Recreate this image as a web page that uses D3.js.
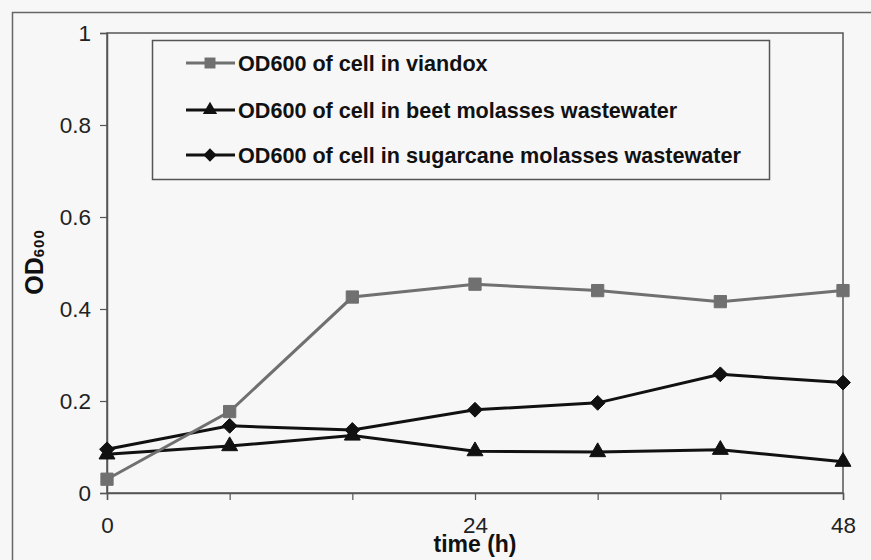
<!DOCTYPE html>
<html>
<head>
<meta charset="utf-8">
<script src="https://cdn.jsdelivr.net/npm/d3@7"></script>
<style>
  body { margin: 0; background: #f7f7f7; }
  svg { display: block; font-family: "Liberation Sans", Arial, sans-serif; }
</style>
</head>
<body>
<div id="chart"></div>
<script>
// hours sampled
const hours = [0, 8, 16, 24, 32, 40, 48];
const xLabels = [0, 24, 48];
const yTicks = [0, 0.2, 0.4, 0.6, 0.8, 1];

const viandox = [0.030, 0.177, 0.426, 0.454, 0.440, 0.416, 0.440];
const beet = [0.084, 0.102, 0.125, 0.091, 0.089, 0.094, 0.068];
const sugarcane = [0.095, 0.146, 0.137, 0.181, 0.196, 0.258, 0.240];

const seriesNames = [
    "OD600 of cell in viandox",
    "OD600 of cell in beet molasses wastewater",
    "OD600 of cell in sugarcane molasses wastewater"
];

// square turned 45deg, excel style diamond
const diamond = {
    draw(context, size) {
        const r = Math.sqrt(size / 2);
        context.moveTo(0, -r);
        context.lineTo(r, 0);
        context.lineTo(0, r);
        context.lineTo(-r, 0);
        context.closePath();
    }
};

function drawChart() {
    const width = 871, height = 560;
    const margin = { top: 33, right: 28, bottom: 67, left: 107 };
    const plotW = width - margin.left - margin.right,
          plotH = height - margin.top - margin.bottom;

    const svg = d3.select("#chart")
        .append("svg")
        .attr("width", width)
        .attr("height", height);

    // outer chart frame (runs off the right / bottom edge like the scan)
    svg.append("rect")
        .attr("x", 12.5).attr("y", 12.5)
        .attr("width", 900).attr("height", 600)
        .attr("fill", "none")
        .attr("stroke", "#666")
        .attr("stroke-width", 1.5);

    const g = svg.append("g")
        .attr("transform", `translate(${margin.left},${margin.top})`);

    const x = d3.scaleLinear().domain([0, 48]).range([0, plotW]);
    const y = d3.scaleLinear().domain([0, 1]).range([plotH, 0]);

    // plot area box
    g.append("rect")
        .attr("width", plotW).attr("height", plotH)
        .attr("fill", "none")
        .attr("stroke", "#555")
        .attr("stroke-width", 1.5);

    const yAxis = g.append("g")
        .call(d3.axisLeft(y).tickValues(yTicks).tickSize(7).tickPadding(9)
            .tickFormat(d => d3.format("")(d)));
    const xAxis = g.append("g")
        .attr("transform", `translate(0,${plotH})`)
        .call(d3.axisBottom(x).tickValues(hours).tickSize(7).tickPadding(17)
            .tickFormat(d => xLabels.includes(d) ? d : ""));

    [yAxis, xAxis].forEach(ax => {
        ax.select(".domain").attr("stroke", "#555").attr("stroke-width", 1.5);
        ax.selectAll(".tick line").attr("stroke", "#555").attr("stroke-width", 1.2);
        ax.selectAll(".tick text")
            .attr("fill", "#222")
            .style("font-size", "22.5px")
            .style("font-family", "'Liberation Sans', Arial, sans-serif");
    });

    // axis titles
    svg.append("text")
        .attr("x", 475).attr("y", 552)
        .attr("text-anchor", "middle")
        .style("font-size", "23px")
        .style("font-weight", "bold")
        .attr("fill", "#111")
        .text("time (h)");

    const yt = svg.append("text")
        .attr("transform", "translate(43,262) rotate(-90)")
        .attr("text-anchor", "middle")
        .style("font-weight", "bold")
        .attr("fill", "#111");
    yt.append("tspan").style("font-size", "25px").text("OD");
    yt.append("tspan").style("font-size", "15px").attr("dy", 1)
        .style("letter-spacing", "1px").text("600");

    const series = [
        { name: seriesNames[0], values: viandox, color: "#707070", shape: d3.symbolSquare, size: 150 },
        { name: seriesNames[1], values: beet, color: "#111", shape: d3.symbolTriangle, size: 110 },
        { name: seriesNames[2], values: sugarcane, color: "#111", shape: diamond, size: 110 }
    ];

    const line = d3.line()
        .x((d, i) => x(hours[i]))
        .y(d => y(d));

    // draw black series first, viandox last as in the scan
    [series[2], series[1], series[0]].forEach(s => {
        g.append("path")
            .datum(s.values)
            .attr("d", line)
            .attr("fill", "none")
            .attr("stroke", s.color)
            .attr("stroke-width", 3);

        g.selectAll(null)
            .data(s.values)
            .enter()
            .append("path")
            .attr("transform", (d, i) => `translate(${x(hours[i])},${y(d)})`)
            .attr("d", d3.symbol().type(s.shape).size(s.size))
            .attr("fill", s.color)
            .attr("stroke", s.color)
            .attr("stroke-width", 1);
    });

    // legend
    const legend = svg.append("g");
    legend.append("rect")
        .attr("x", 152.5).attr("y", 40.5)
        .attr("width", 617).attr("height", 139)
        .attr("fill", "#f7f7f7")
        .attr("stroke", "#555")
        .attr("stroke-width", 1.5);

    const rowY = [63, 110, 155];
    series.forEach((s, i) => {
        const row = legend.append("g").attr("transform", `translate(0,${rowY[i]})`);
        row.append("line")
            .attr("x1", 186).attr("x2", 235)
            .attr("stroke", s.color)
            .attr("stroke-width", 3);
        row.append("path")
            .attr("transform", "translate(210,0)")
            .attr("d", d3.symbol().type(s.shape).size(s.size * 0.8))
            .attr("fill", s.color);
        row.append("text")
            .attr("x", 238)
            .attr("y", 8)
            .style("font-size", "21.6px")
            .style("font-weight", "bold")
            .attr("fill", "#111")
            .text(s.name);
    });
}

drawChart();
</script>
</body>
</html>
